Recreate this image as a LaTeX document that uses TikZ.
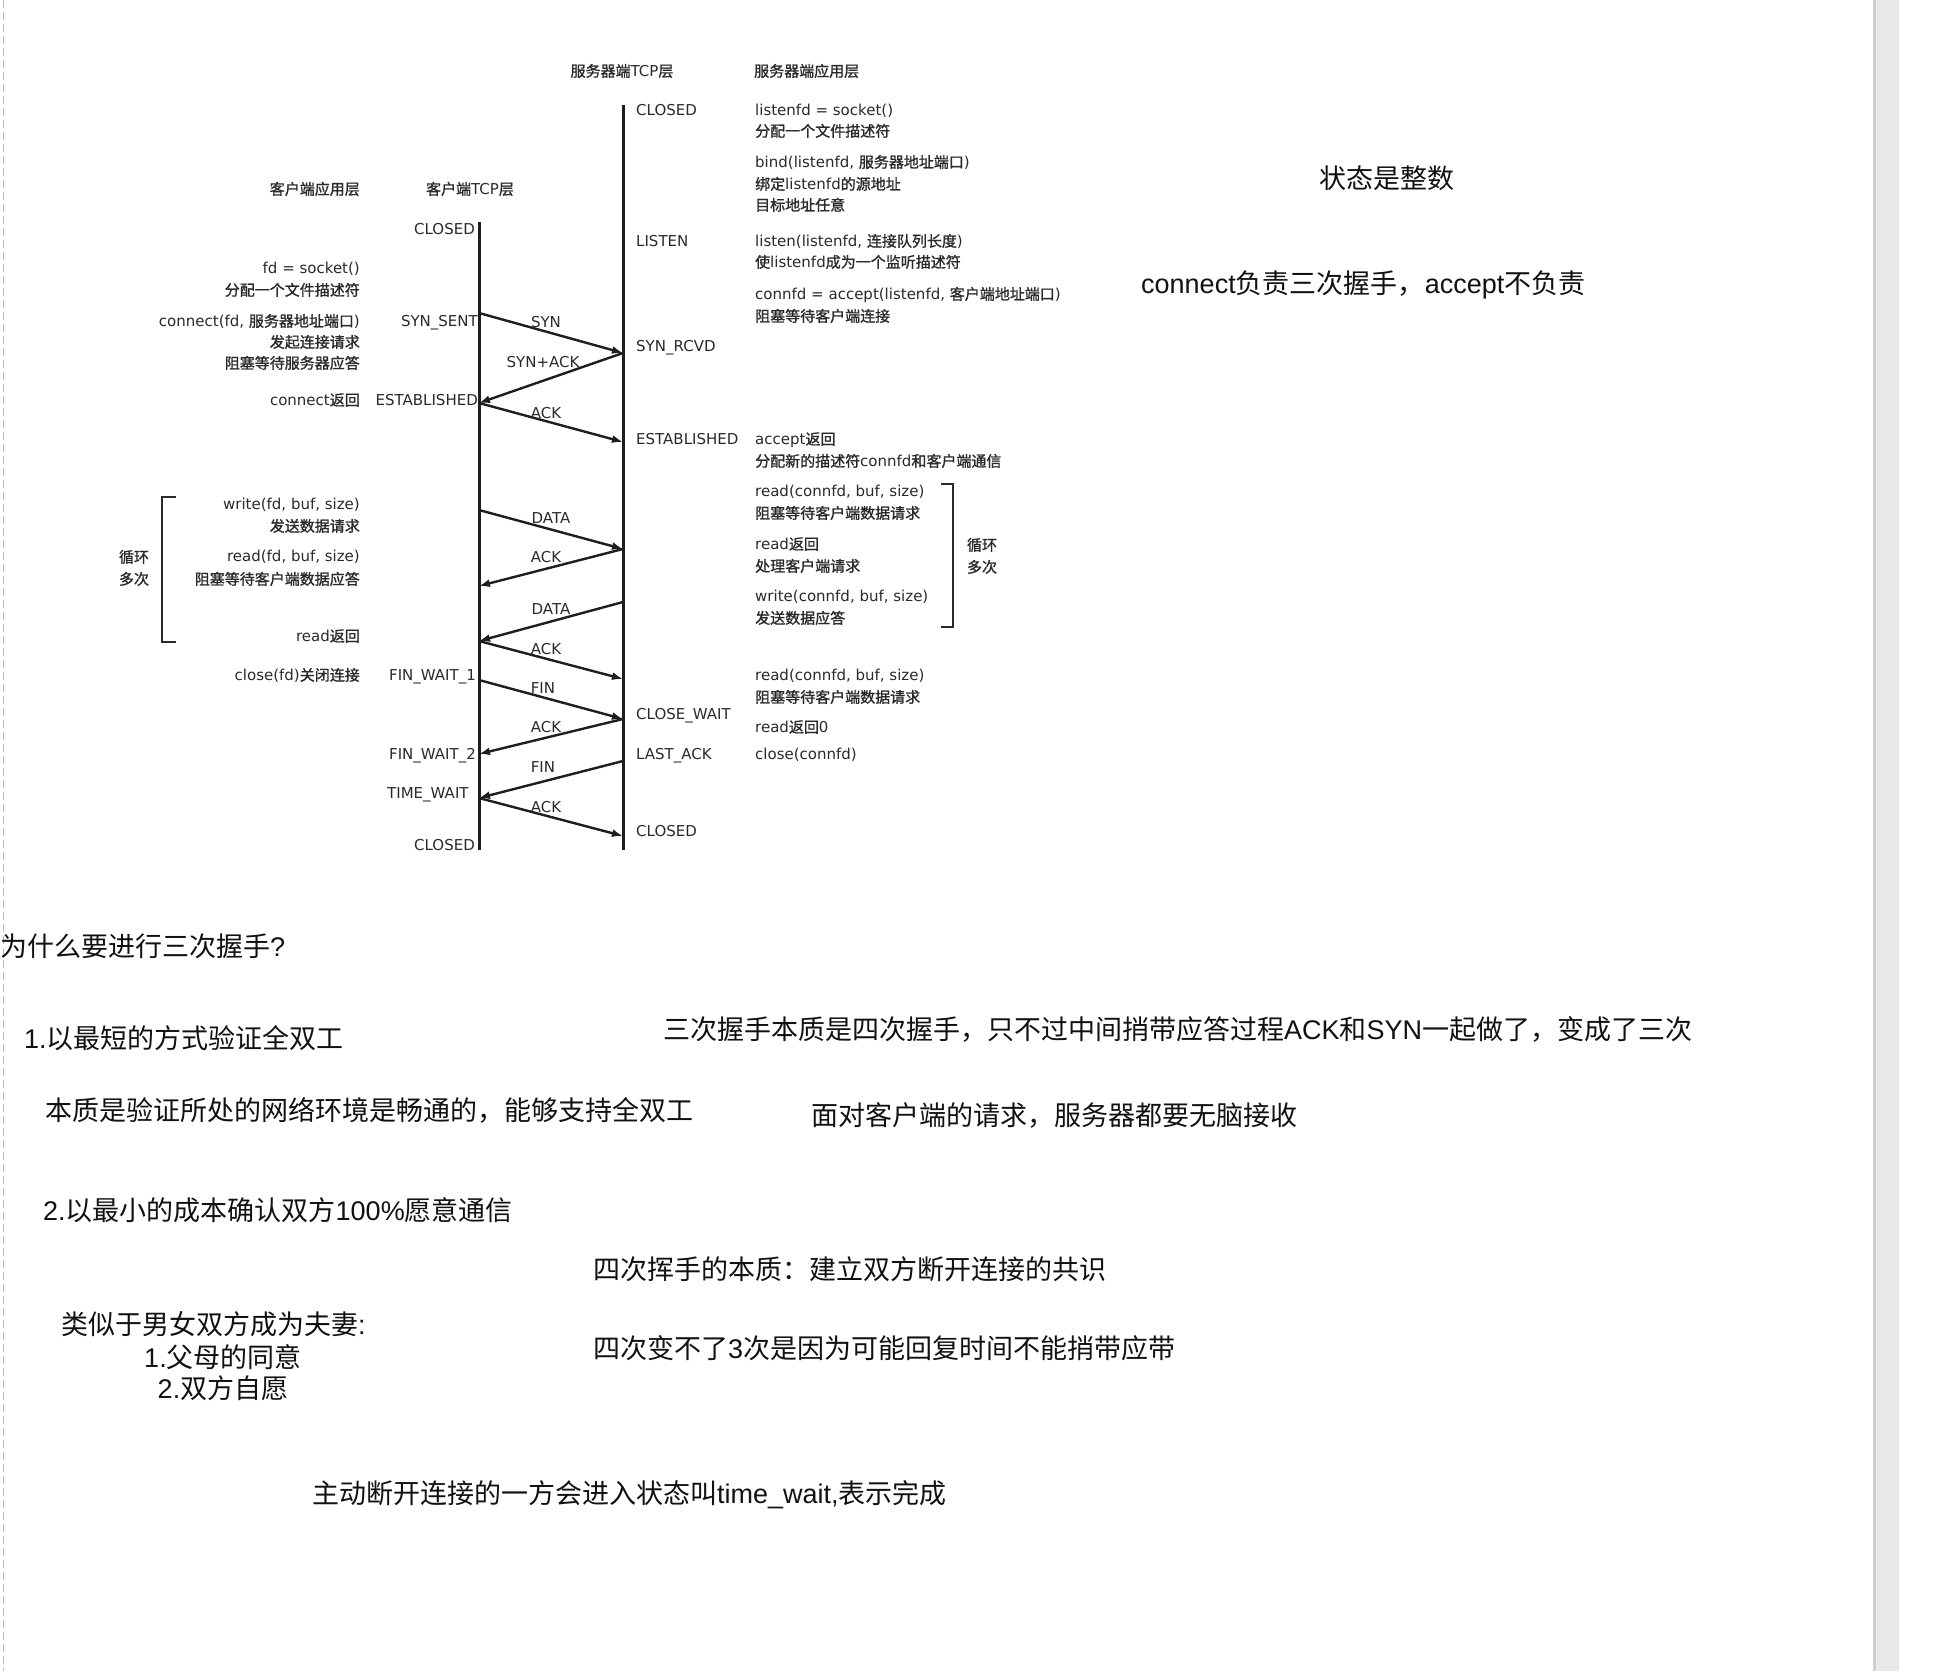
\documentclass[tikz,border=0pt]{standalone}
\usepackage{fontspec}
\setmainfont{Liberation Sans}
\newfontfamily\djv{DejaVu Sans}
\newfontfamily\cjk{Noto Sans CJK SC}
\newfontfamily\cjkd[FakeBold=1.2]{Noto Sans CJK SC}
\newcommand\C[1]{{\cjk #1}}
\usetikzlibrary{arrows.meta}
\definecolor{dtext}{HTML}{2A2A2A}
\definecolor{dline}{HTML}{1E1E1E}
\definecolor{ntext}{HTML}{111111}
\definecolor{barc}{HTML}{E9E9E9}
\definecolor{barc2}{HTML}{CFCFCF}
\definecolor{dashc}{HTML}{B8B8B8}
\tikzset{
  dg/.style={font=\djv\fontsize{15}{18}\selectfont\let\cjk\cjkd, text=dtext, inner sep=0pt, text height=11.25pt, text depth=0pt},
  dl/.style={dg, anchor=west},
  dr/.style={dg, anchor=east},
  note/.style={font=\fontsize{27}{32}\selectfont, text=ntext, inner sep=0pt, text height=20pt, text depth=0pt, anchor=west},
  life/.style={line width=3pt, draw=dline},
  msg/.style={line width=2.4pt, draw=dline, -{Latex[length=11pt,width=8pt]}},
  brk/.style={line width=2pt, draw=dtext},
}
\begin{document}
\begin{tikzpicture}[x=1pt, y=-1pt]
\useasboundingbox (0,0) rectangle (1960,1671);
\fill[white] (0,0) rectangle (1960,1671);
% page decorations
\draw[dashc, line width=1pt, dash pattern=on 8pt off 4pt] (3,0) -- (3,1671);
\fill[barc] (1873,0) rectangle (1899,1671);
\fill[barc2] (1873,0) rectangle (1876,1671);

% headers
\node[dg] (hst) at (622,71) {\C{服务器端}TCP\C{层}};
\node[dl] (hsa) at (754,71) {\C{服务器端应用层}};
\node[dr] (hca) at (360,189) {\C{客户端应用层}};
\node[dg] (hct) at (470,189) {\C{客户端}TCP\C{层}};

% lifelines
\coordinate (ctop) at (479,222);
\coordinate (cbot) at (479,850);
\coordinate (stop) at (623,105);
\coordinate (sbot) at (623,850);
\draw[life] (ctop) -- (cbot);
\draw[life] (stop) -- (sbot);

% message end points
\coordinate (c1) at (479,313);
\coordinate (c2) at (479,403);
\coordinate (c3) at (479,510);
\coordinate (c4) at (479,586);
\coordinate (c5) at (479,641);
\coordinate (c6) at (479,680);
\coordinate (c7) at (479,754);
\coordinate (c8) at (479,798);
\coordinate (s1) at (623,353);
\coordinate (s2) at (623,442);
\coordinate (s3) at (623,549);
\coordinate (s4) at (623,602);
\coordinate (s5) at (623,679);
\coordinate (s6) at (623,719);
\coordinate (s7) at (623,761);
\coordinate (s8) at (623,836);

\draw[msg] (c1) -- (s1);
\draw[msg] (s1) -- (c2);
\draw[msg] (c2) -- (s2);
\draw[msg] (c3) -- (s3);
\draw[msg] (s3) -- (c4);
\draw[msg] (s4) -- (c5);
\draw[msg] (c5) -- (s5);
\draw[msg] (c6) -- (s6);
\draw[msg] (s6) -- (c7);
\draw[msg] (s7) -- (c8);
\draw[msg] (c8) -- (s8);

% message labels
\node[dg] (l1) at (546,322) {SYN};
\node[dg] (l2) at (543,362) {SYN+ACK};
\node[dg] (l3) at (546,413) {ACK};
\node[dg] (l4) at (551,518) {DATA};
\node[dg] (l5) at (546,557) {ACK};
\node[dg] (l6) at (551,609) {DATA};
\node[dg] (l7) at (546,649) {ACK};
\node[dg] (l8) at (543,688) {FIN};
\node[dg] (l9) at (546,727) {ACK};
\node[dg] (l10) at (543,767) {FIN};
\node[dg] (l11) at (546,807) {ACK};

% server states
\node[dl] (ss1) at (636,110) {CLOSED};
\node[dl] (ss2) at (636,241) {LISTEN};
\node[dl] (ss3) at (636,346) {SYN\_RCVD};
\node[dl] (ss4) at (636,439) {ESTABLISHED};
\node[dl] (ss5) at (636,714) {CLOSE\_WAIT};
\node[dl] (ss6) at (636,754) {LAST\_ACK};
\node[dl] (ss7) at (636,831) {CLOSED};

% server application text
\node[dl] (sa1) at (755,110) {listenfd = socket()};
\node[dl] (sa2) at (755,131) {\C{分配一个文件描述符}};
\node[dl] (sa3) at (755,162) {bind(listenfd, \C{服务器地址端口})};
\node[dl] (sa4) at (755,184) {\C{绑定}listenfd\C{的源地址}};
\node[dl] (sa5) at (755,205) {\C{目标地址任意}};
\node[dl] (sa6) at (755,241) {listen(listenfd, \C{连接队列长度})};
\node[dl] (sa7) at (755,262) {\C{使}listenfd\C{成为一个监听描述符}};
\node[dl] (sa8) at (755,294) {connfd = accept(listenfd, \C{客户端地址端口})};
\node[dl] (sa9) at (755,316) {\C{阻塞等待客户端连接}};
\node[dl] (sa10) at (755,439) {accept\C{返回}};
\node[dl] (sa11) at (755,461) {\C{分配新的描述符}connfd\C{和客户端通信}};
\node[dl] (sa12) at (755,491) {read(connfd, buf, size)};
\node[dl] (sa13) at (755,513) {\C{阻塞等待客户端数据请求}};
\node[dl] (sa14) at (755,544) {read\C{返回}};
\node[dl] (sa15) at (755,566) {\C{处理客户端请求}};
\node[dl] (sa16) at (755,596) {write(connfd, buf, size)};
\node[dl] (sa17) at (755,618) {\C{发送数据应答}};
\node[dl] (sa18) at (755,675) {read(connfd, buf, size)};
\node[dl] (sa19) at (755,697) {\C{阻塞等待客户端数据请求}};
\node[dl] (sa20) at (755,727) {read\C{返回}0};
\node[dl] (sa21) at (755,754) {close(connfd)};

% right bracket
\draw[brk] (941,484) -- (953,484) -- (953,627) -- (941,627);
\node[dg] (lr1) at (982,545) {\C{循环}};
\node[dg] (lr2) at (982,567) {\C{多次}};

% client states
\node[dr] (cs1) at (475,229) {CLOSED};
\node[dr] (cs2) at (478,321) {SYN\_SENT};
\node[dr] (cs3) at (478,400) {ESTABLISHED};
\node[dr] (cs4) at (476,675) {FIN\_WAIT\_1};
\node[dr] (cs5) at (476,754) {FIN\_WAIT\_2};
\node[dl] (cs6) at (387,793) {TIME\_WAIT};
\node[dr] (cs7) at (475,845) {CLOSED};

% client application text
\node[dr] (ca1) at (360,268) {fd = socket()};
\node[dr] (ca2) at (360,290) {\C{分配一个文件描述符}};
\node[dr] (ca3) at (360,321) {connect(fd, \C{服务器地址端口})};
\node[dr] (ca4) at (360,342) {\C{发起连接请求}};
\node[dr] (ca5) at (360,363) {\C{阻塞等待服务器应答}};
\node[dr] (ca6) at (360,400) {connect\C{返回}};
\node[dr] (ca7) at (360,504) {write(fd, buf, size)};
\node[dr] (ca8) at (360,526) {\C{发送数据请求}};
\node[dr] (ca9) at (360,556) {read(fd, buf, size)};
\node[dr] (ca10) at (360,579) {\C{阻塞等待客户端数据应答}};
\node[dr] (ca11) at (360,636) {read\C{返回}};
\node[dr] (ca12) at (360,675) {close(fd)\C{关闭连接}};

% left bracket
\draw[brk] (176,497) -- (162,497) -- (162,642) -- (176,642);
\node[dg] (ll1) at (134,557) {\C{循环}};
\node[dg] (ll2) at (134,579) {\C{多次}};

% notes
\node[note] (n1) at (1319,178) {\C{状态是整数}};
\node[note] (n2) at (1141,283) {connect\C{负责三次握手，}accept\C{不负责}};
\node[note] (n3) at (0,946) {\C{为什么要进行三次握手}?};
\node[note] (n4) at (24,1038) {1.\C{以最短的方式验证全双工}};
\node[note] (n5) at (663,1029) {\C{三次握手本质是四次握手，只不过中间捎带应答过程}ACK\C{和}SYN\C{一起做了，变成了三次}};
\node[note] (n6) at (45,1110) {\C{本质是验证所处的网络环境是畅通的，能够支持全双工}};
\node[note] (n7) at (811,1115) {\C{面对客户端的请求，服务器都要无脑接收}};
\node[note] (n8) at (43,1210) {2.\C{以最小的成本确认双方}100\%\C{愿意通信}};
\node[note] (n9) at (593,1269) {\C{四次挥手的本质：建立双方断开连接的共识}};
\node[note] (n10) at (61,1324) {\C{类似于男女双方成为夫妻}:};
\node[note, anchor=center] (n11) at (223,1357) {1.\C{父母的同意}};
\node[note, anchor=center] (n12) at (223,1388) {2.\C{双方自愿}};
\node[note] (n13) at (593,1348) {\C{四次变不了}3\C{次是因为可能回复时间不能捎带应带}};
\node[note] (n14) at (312,1493) {\C{主动断开连接的一方会进入状态叫}time\_wait,\C{表示完成}};
\end{tikzpicture}
\end{document}
